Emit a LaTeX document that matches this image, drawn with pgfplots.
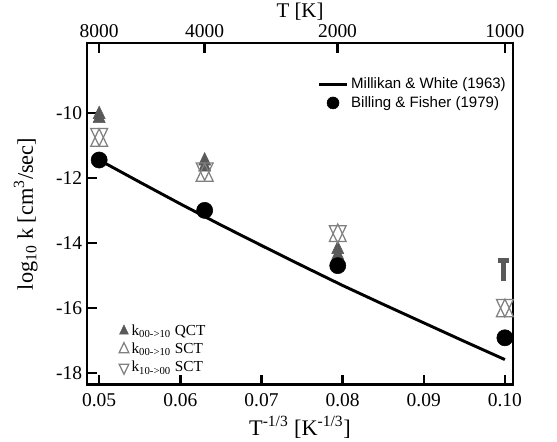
\documentclass[border=0pt]{standalone}
\usepackage{fontspec}
\setmainfont{Liberation Serif}
\newfontfamily\helv{Liberation Sans}
\usepackage{pgfplots}
\pgfplotsset{compat=1.18}
\definecolor{qct}{gray}{0.35}
\definecolor{sct}{gray}{0.5}

\begin{document}
\begin{tikzpicture}[font=\fontsize{16}{19}\selectfont]
\pgfplotsset{
  frame/.style={
    scale only axis, width=306pt, height=245.6pt,
    xmin=0.0485, xmax=0.1010, ymin=-18.37, ymax=-7.85,
    axis line style={line width=2.1pt},
    tick align=inside, major tick length=7pt,
    every tick/.style={line width=1.8pt, black},
    tick label style={font=\fontsize{14}{16}\selectfont},
  }
}
\begin{axis}[
    frame, name=main,
    xtick pos=bottom, ytick pos=left,
    xtick={0.05,0.06,0.07,0.08,0.09,0.10},
    xticklabels={0.05,0.06,0.07,0.08,0.09,0.10},
    xticklabel style={yshift=-3pt},
    ytick={-18,-16,-14,-12,-10},
    yticklabels={-18,-16,-14,-12,-10},
    xlabel={T\textsuperscript{-1/3} [K\textsuperscript{-1/3}]},
    xlabel style={at={(axis description cs:0.5,0)}, anchor=base, yshift=-36pt},
    ylabel={log\textsubscript{10} k [cm\textsuperscript{3}/sec]},
    ylabel style={at={(axis description cs:0,0.5)}, anchor=center, yshift=44pt},
    legend style={at={(0.065,0.015)}, anchor=south west, draw=none, fill=none,
        font=\fontsize{11}{13}\selectfont, row sep=0pt},
    legend cell align=left,
]
% QCT k00->10 (filled up triangles)
\addplot[only marks, mark=triangle*, mark size=5pt, color=qct,
    mark options={fill=qct, draw=qct, yscale=1.2},
    legend image post style={mark size=3.6pt}]
    coordinates {(0.05,-10.05)(0.05,-10.17)(0.063,-11.48)(0.063,-11.66)(0.0794,-14.2)(0.0794,-14.38)};
\addlegendentry{k\textsubscript{00->10} QCT}
% SCT k00->10 (open up triangles)
\addplot[only marks, mark=triangle, mark size=7pt, color=sct,
    mark options={line width=0.9pt, yscale=1.2},
    legend image post style={mark size=4pt}]
    coordinates {(0.05,-10.85)(0.063,-11.92)(0.0794,-13.78)(0.1,-16.09)};
\addlegendentry{k\textsubscript{00->10} SCT}
% SCT k10->00 (open down triangles)
\addplot[only marks, mark=triangle, mark size=7pt, color=sct,
    mark options={rotate=180, line width=0.9pt, yscale=1.2},
    legend image post style={mark size=4pt}]
    coordinates {(0.05,-10.66)(0.063,-11.72)(0.0794,-13.65)(0.1,-15.92)};
\addlegendentry{k\textsubscript{10->00} SCT}
% QCT upper bound at 1000 K
\addplot[forget plot, color=qct, line width=3.6pt]
    coordinates {(0.0998,-14.54)(0.0998,-15.17)};
\addplot[forget plot, color=qct, line width=3pt]
    coordinates {(0.0991,-14.54)(0.1005,-14.54)};
\end{axis}
\begin{axis}[
    frame,
    axis x line*=top, axis y line=none,
    xtick={0.05,0.063,0.07937,0.1},
    xticklabels={8000,4000,2000,1000},
    xlabel={T [K]},
    xlabel style={at={(axis description cs:0.5,1)}, anchor=base, yshift=18pt,
        font=\fontsize{15}{18}\selectfont},
    legend style={at={(1.0,0.915)}, anchor=north east, draw=none, fill=none,
        font=\helv\fontsize{10.8}{13}\selectfont, row sep=0pt},
    legend cell align=left,
    legend image code/.code={\draw[#1] (0pt,0pt) -- (20pt,0pt);},
]
% Millikan & White correlation
\addplot[black, line width=2.1pt]
    coordinates {(0.05,-11.45)(0.055,-12.13)(0.06,-12.80)(0.065,-13.45)(0.07,-14.08)
                 (0.075,-14.70)(0.08,-15.31)(0.085,-15.89)(0.09,-16.46)(0.095,-17.03)(0.1,-17.59)};
\addlegendentry{Millikan \& White (1963)}
% Billing & Fisher
\addplot[only marks, mark=*, mark size=5.8pt, black,
    legend image code/.code={\draw[mark size=4.3pt] plot[mark=*] coordinates {(10pt,0pt)};}]
    coordinates {(0.05,-11.45)(0.063,-13.0)(0.0794,-14.70)(0.1,-16.92)};
\addlegendentry{Billing \& Fisher (1979)}
\end{axis}
\pgfresetboundingbox
\path ([xshift=-62.5pt,yshift=-40.9pt]main.south west) rectangle ([xshift=31.6pt,yshift=30.9pt]main.north east);
\end{tikzpicture}
\end{document}
